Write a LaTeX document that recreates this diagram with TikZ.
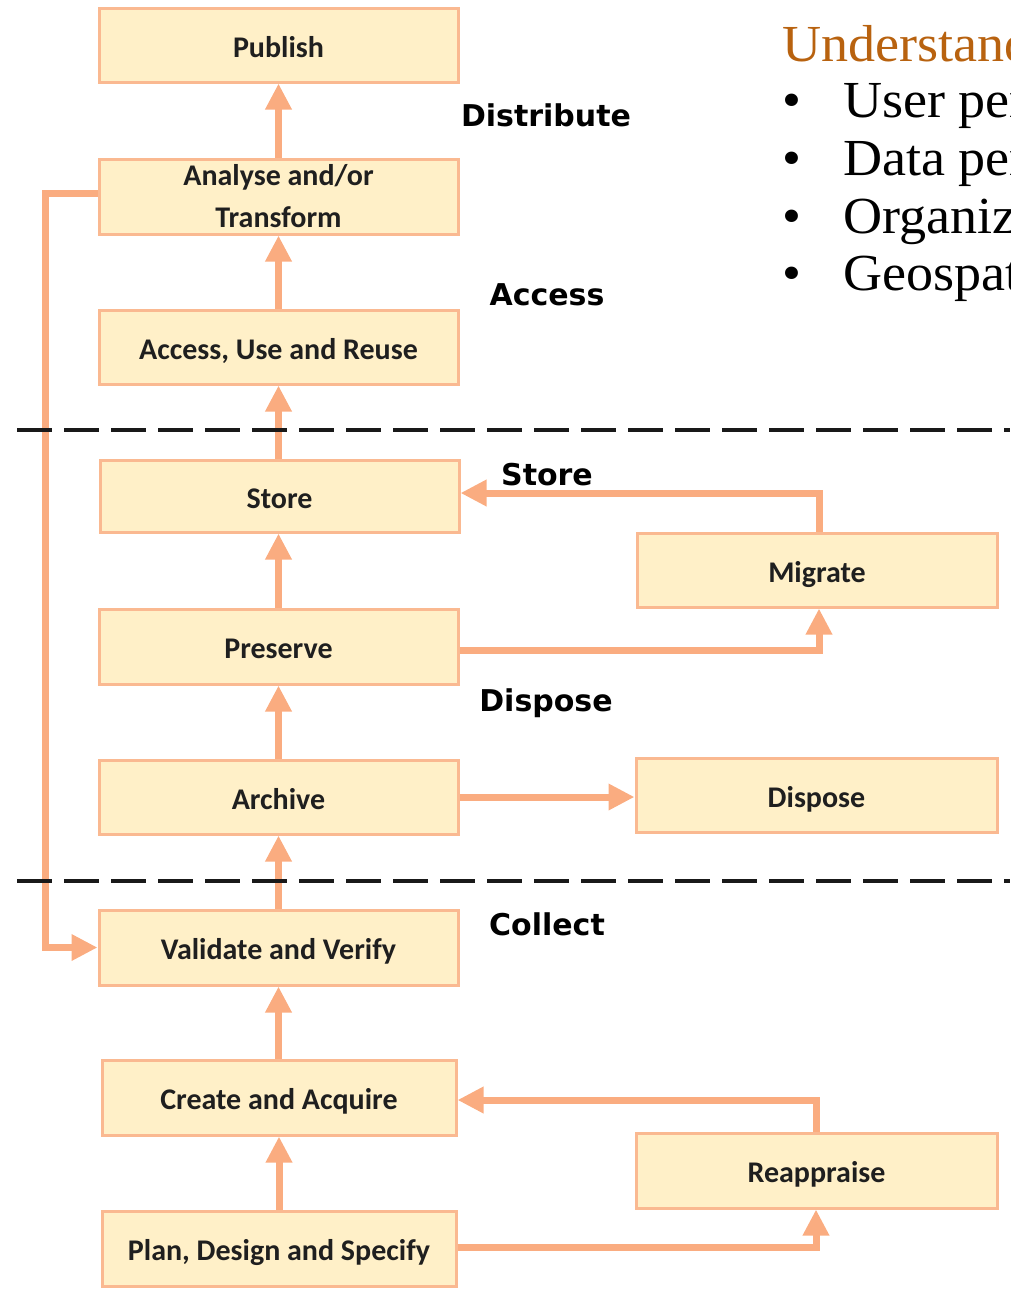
\documentclass[tikz,border=0pt]{standalone}
\usepackage{fontspec}
\setmainfont{Carlito}
\newfontfamily\labfont{DejaVu Sans}
\newfontfamily\serfont[FakeStretch=1.04]{Liberation Serif}
\usetikzlibrary{arrows.meta}
\definecolor{boxfill}{RGB}{255,240,200}
\definecolor{boxline}{RGB}{250,185,145}
\definecolor{arr}{RGB}{250,172,128}
\definecolor{ttl}{RGB}{184,98,15}
\begin{document}
\begin{tikzpicture}[x=1pt,y=-1pt,
 box/.style={draw=boxline,fill=boxfill,line width=3pt,minimum width=359pt,minimum height=74pt,inner sep=0pt,font=\fontsize{30}{42}\selectfont\bfseries,text=black!88,align=center},
 sbox/.style={box,text height=27pt,text depth=3pt},
 flow/.style={draw=arr,line width=7pt,-{Triangle[length=26pt,width=25pt]}},
 lab/.style={font=\labfont\fontsize{30}{36}\selectfont\bfseries,anchor=base,text=black},
 sepline/.style={line width=4pt,dash pattern=on 35pt off 12pt,black!90},
 rtext/.style={font=\serfont\fontsize{52}{60}\selectfont,anchor=base west,text=black,inner sep=0pt}]
\useasboundingbox (0,0) rectangle (1010,1299);

% boxes
\node[sbox] (publish) at (278.5,45) {Publish};
\node[box,minimum height=75pt] (analyse) at (278.5,196.5) {Analyse and/or\\Transform};
\node[sbox] (access) at (278.5,347) {Access, Use and Reuse};
\node[sbox,minimum height=72pt] (store) at (279.5,496) {Store};
\node[sbox,minimum height=75pt] (preserve) at (278.5,646.5) {Preserve};
\node[sbox] (archive) at (278.5,797) {Archive};
\node[sbox,minimum height=75pt] (validate) at (278.5,947.5) {Validate and Verify};
\node[sbox,minimum width=354pt,minimum height=75pt] (create) at (279,1097.5) {Create and Acquire};
\node[sbox,minimum width=354pt,minimum height=75pt] (plan) at (279,1248.5) {Plan, Design and Specify};
\node[sbox,minimum width=360pt] (migrate) at (817,570) {Migrate};
\node[sbox,minimum width=361pt] (dispbox) at (816.5,795) {Dispose};
\node[sbox,minimum width=361pt,minimum height=75pt] (reappraise) at (816.5,1170.5) {Reappraise};

% vertical flow
\draw[flow] (analyse.north) -- (publish.south);
\draw[flow] (access.north) -- (analyse.south);
\draw[flow] (store.north -| access.south) -- (access.south);
\draw[flow] (preserve.north) -- (preserve.north |- store.south);
\draw[flow] (archive.north) -- (preserve.south);
\draw[flow] (validate.north) -- (archive.south);
\draw[flow] (create.north -| validate.south) -- (validate.south);
\draw[flow] (plan.north) -- (create.south);

% loops
\coordinate (loopL) at (45,193);
\draw[flow] (analyse.west |- loopL) -- (loopL) |- (validate.west);
\coordinate (migTop) at (819,493);
\draw[flow] (migrate.north -| migTop) -- (migTop) -- (migTop -| store.east);
\coordinate (migBot) at (819,650);
\draw[flow] (preserve.east |- migBot) -- (migBot) -- (migBot |- migrate.south);
\draw[flow] (archive.east) -- (archive.east -| dispbox.west);
\coordinate (reaTop) at (816,1100);
\draw[flow] (reappraise.north -| reaTop) -- (reaTop) -- (reaTop -| create.east);
\coordinate (reaBot) at (816,1247);
\draw[flow] (plan.east |- reaBot) -- (reaBot) -- (reaBot |- reappraise.south);

% section labels
\node[lab] (lDistribute) at (546,126) {Distribute};
\node[lab] (lAccess) at (547,305) {Access};
\node[lab] (lStore) at (547,485) {Store};
\node[lab] (lDispose) at (546,711) {Dispose};
\node[lab] (lCollect) at (547,935) {Collect};

% dashed separators
\coordinate (d1a) at (17,430);
\coordinate (d1b) at (1010,430);
\coordinate (d2a) at (17,881);
\coordinate (d2b) at (1010,881);
\draw[sepline] (d1a) -- (d1b);
\draw[sepline] (d2a) -- (d2b);

% right text (cropped at the right edge, as in the reference)
\begin{scope}
\clip (0,0) rectangle (1010,1299);
\node[rtext,text=ttl] (under) at (782,61) {Understanding};
\node[rtext] (b1) at (782,117) {•};
\node[rtext] (t1) at (843,117) {User perspective};
\node[rtext] (b2) at (782,175) {•};
\node[rtext] (t2) at (843,175) {Data perspective};
\node[rtext] (b3) at (782,233) {•};
\node[rtext] (t3) at (843,233) {Organization};
\node[rtext] (b4) at (782,290) {•};
\node[rtext] (t4) at (843,290) {Geospatial};
\end{scope}
\end{tikzpicture}
\end{document}
